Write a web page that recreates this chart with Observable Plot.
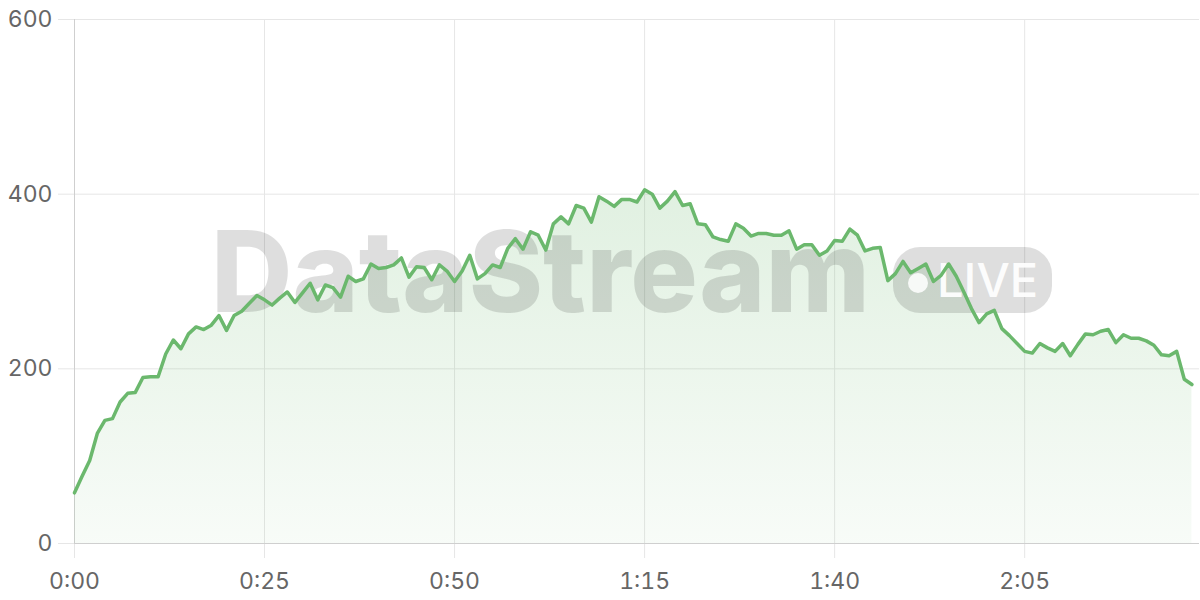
<!DOCTYPE html>
<html>
<head>
<meta charset="utf-8">
<script src="https://cdn.jsdelivr.net/npm/d3@7"></script>
<script src="https://cdn.jsdelivr.net/npm/@observablehq/plot@0.6"></script>
<style>
  html, body { margin: 0; padding: 0; background: #fff; }
  #chart { width: 1200px; height: 600px; }
</style>
</head>
<body>
<div id="chart"></div>
<script>
// Viewer count per second (0:00 .. 2:27)
const viewers = [
  58, 77, 95, 126, 141, 143, 162, 172, 173, 190,
  191, 191, 217, 233, 223, 240, 248, 245, 250, 261,
  244, 261, 266, 275, 284, 279, 273, 281, 288, 276,
  287, 298, 279, 296, 293, 282, 306, 300, 303, 320,
  315, 316, 319, 327, 305, 317, 316, 302, 319, 312,
  300, 312, 330, 303, 309, 319, 316, 338, 349, 337,
  357, 353, 336, 366, 374, 366, 387, 384, 368, 397,
  392, 386, 394, 394, 391, 405, 400, 384, 392, 403,
  387, 389, 366, 365, 351, 348, 346, 366, 361, 352,
  355, 355, 353, 353, 358, 337, 342, 342, 330, 335,
  347, 346, 360, 353, 335, 338, 339, 301, 309, 323,
  310, 315, 320, 300, 307, 320, 306, 288, 269, 253,
  263, 267, 246, 238, 229, 220, 218, 229, 224, 220,
  229, 215, 228, 240, 239, 243, 245, 230, 239, 235,
  235, 232, 227, 216, 215, 220, 188, 182
];
const xTicks = [0, 25, 50, 75, 100, 125];
const yTicks = [0, 200, 400, 600];
const xDomain = [0, 148];
const yDomain = [0, 600];
const watermarkText = "DataStream";
const badgeText = "LIVE";

const fmtTime = d => `${Math.floor(d / 60)}:${String(d % 60).padStart(2, "0")}`;

const lineColor = "#6bb86d";
const gridColor = "#e6e6e6";
const axisColor = "#cfcfcf";
const labelColor = "#666";

const gradientDefs = (index, scales, values, dim) => {
  const defs = d3.create("svg:defs");
  const lg = defs.append("linearGradient")
    .attr("id", "areaFill")
    .attr("gradientUnits", "userSpaceOnUse")
    .attr("x1", 0).attr("x2", 0)
    .attr("y1", dim.marginTop)
    .attr("y2", dim.height - dim.marginBottom);
  lg.append("stop").attr("offset", "0%").attr("stop-color", lineColor).attr("stop-opacity", 0.28);
  lg.append("stop").attr("offset", "100%").attr("stop-color", lineColor).attr("stop-opacity", 0.05);
  return defs.node();
};

const watermark = (index, scales, values, dim) => {
  const g = d3.create("svg:g").attr("pointer-events", "none").attr("text-anchor", "start");
  g.append("text")
    .attr("x", 211).attr("y", 312)
    .attr("text-anchor", "start")
    .attr("font-family", "Inter, 'Open Sans', sans-serif")
    .attr("font-weight", 800)
    .attr("font-size", 113)
    .attr("textLength", 659)
    .attr("lengthAdjust", "spacingAndGlyphs")
    .attr("fill", "#000").attr("fill-opacity", 0.13)
    .text(watermarkText);
  g.append("rect")
    .attr("x", 893).attr("y", 247).attr("width", 159).attr("height", 66)
    .attr("rx", 27)
    .attr("fill", "#000").attr("fill-opacity", 0.13);
  g.append("circle")
    .attr("cx", 918).attr("cy", 283).attr("r", 10)
    .attr("fill", "#fff").attr("fill-opacity", 0.85);
  g.append("text")
    .attr("x", 937).attr("y", 297)
    .attr("text-anchor", "start")
    .attr("font-family", "Inter, 'Open Sans', sans-serif")
    .attr("font-weight", 500)
    .attr("font-size", 47)
    .attr("fill", "#fff").attr("fill-opacity", 0.95)
    .text(badgeText);
  return g.node();
};

const chart = Plot.plot({
  width: 1200,
  height: 600,
  marginLeft: 74,
  marginRight: 1,
  marginTop: 19,
  marginBottom: 57,
  style: { fontFamily: "Inter, 'Open Sans', sans-serif", fontSize: "23px", background: "#fff", overflow: "visible" },
  x: { domain: xDomain },
  y: { domain: yDomain },
  marks: [
    gradientDefs,
    Plot.gridX(xTicks, { stroke: gridColor, strokeOpacity: 1 }),
    Plot.gridY(yTicks, { stroke: gridColor, strokeOpacity: 1 }),
    Plot.axisX(xTicks, { tickFormat: fmtTime, tickSize: 15, tickPadding: 14, stroke: gridColor, strokeOpacity: 1, fill: labelColor, fontSize: 23 }),
    Plot.axisY(yTicks, { tickSize: 16, tickPadding: 6, stroke: gridColor, strokeOpacity: 1, fill: labelColor, fontSize: 23 }),
    Plot.ruleX([0], { stroke: axisColor }),
    Plot.ruleY([0], { stroke: axisColor }),
    Plot.areaY(viewers, { x: (d, i) => i, y: d => d, fill: "url(#areaFill)", curve: "linear" }),
    watermark,
    Plot.lineY(viewers, { x: (d, i) => i, y: d => d, stroke: lineColor, strokeWidth: 3.5, strokeLinejoin: "round", strokeLinecap: "round" })
  ]
});
document.getElementById("chart").appendChild(chart);
</script>
</body>
</html>
